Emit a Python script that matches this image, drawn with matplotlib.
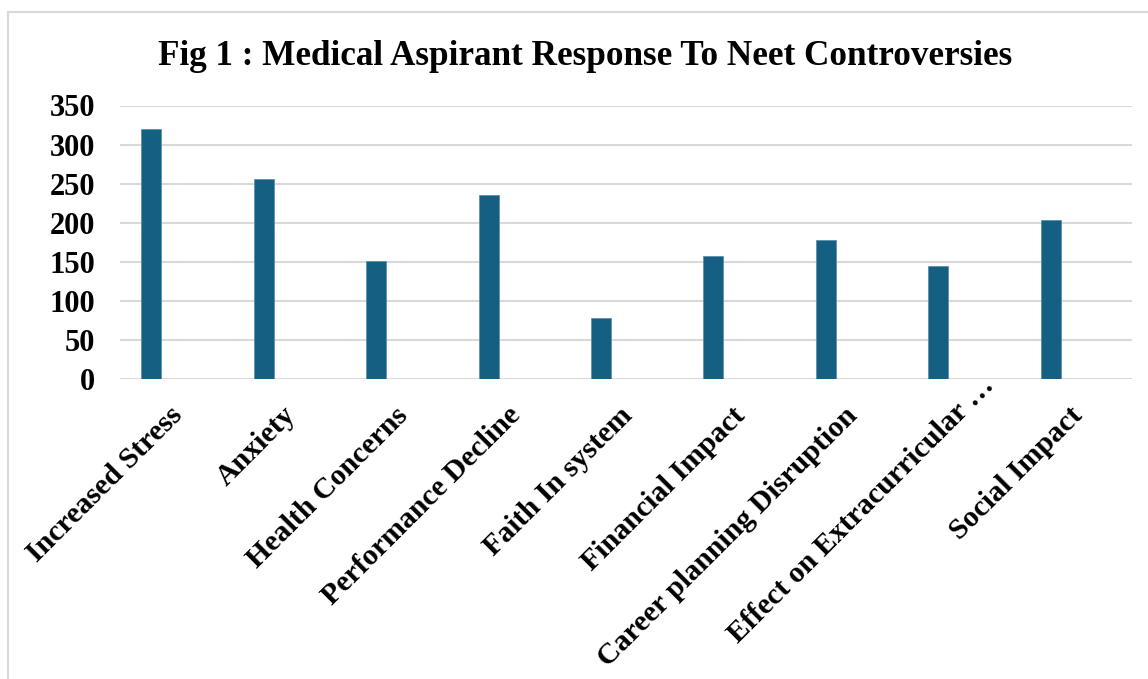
import matplotlib
matplotlib.use("Agg")
import matplotlib.pyplot as plt
import matplotlib.transforms as mtransforms
import numpy as np
from matplotlib.lines import Line2D

categories = ["Increased Stress", "Anxiety", "Health Concerns", "Performance Decline",
              "Faith In system", "Financial Impact", "Career planning Disruption",
              "Effect on Extracurricular …", "Social Impact"]
values = [320, 256, 151, 236, 78, 157, 178, 145, 204]
yticks = [0, 50, 100, 150, 200, 250, 300, 350]
title = "Fig 1 : Medical Aspirant Response To Neet Controversies"

W, H = 1148, 679
fig = plt.figure(figsize=(W / 100, H / 100), dpi=100)
plt.rcParams['font.family'] = ['Liberation Serif', 'DejaVu Serif']

ax = fig.add_axes([120 / W, 1 - 379.3 / H, (1132 - 120) / W, (379.3 - 105.5) / H])
x = np.arange(len(categories))
ax.bar(x - 0.222, values, width=0.178, color="#156082", edgecolor="#5C90AE",
       linewidth=0.6, zorder=3)
ax.set_xlim(-0.5, len(categories) - 0.5)
ax.set_ylim(0, 350)
ax.set_yticks(yticks)
ax.set_yticklabels([str(v) for v in yticks], fontsize=22, fontweight='bold')
ax.yaxis.grid(True, color="#D9D9D9", linewidth=1.5, zorder=0)
ax.set_axisbelow(True)
for s in ax.spines.values():
    s.set_visible(False)
ax.tick_params(axis='y', length=0, pad=18)
ax.tick_params(axis='x', length=0, pad=4)
ax.set_xticks(x)
ax.set_xticklabels(categories, rotation=45, ha='right', rotation_mode='anchor',
                   fontsize=21.5, fontweight='bold')
for lbl in ax.get_xticklabels():
    dx, dy = -7, -17
    if lbl.get_text().endswith("…"):
        # the truncated label sits further up-right in the reference
        dx, dy = 17, 13
    offset = mtransforms.ScaledTranslation(dx / 100, dy / 100, fig.dpi_scale_trans)
    lbl.set_transform(lbl.get_transform() + offset)

fig.text(585 / W, 1 - 65 / H, title, ha='center', va='baseline',
         fontsize=25.3, fontweight='bold')

# chart border (top and left visible)
fig.add_artist(Line2D([8 / W, 8 / W], [0, 1 - 12 / H], transform=fig.transFigure,
                      color="#D9D9D9", linewidth=1.5))
fig.add_artist(Line2D([8 / W, 1], [1 - 12 / H, 1 - 12 / H], transform=fig.transFigure,
                      color="#D9D9D9", linewidth=1.5))

fig.savefig("out.png", dpi=100, facecolor="white")
